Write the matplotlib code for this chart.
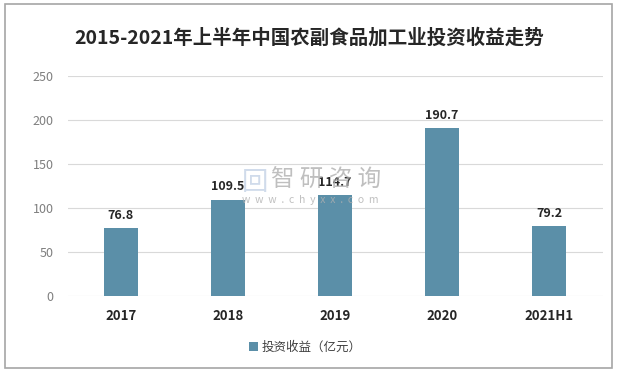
import matplotlib.pyplot as plt
from matplotlib.patches import Rectangle

plt.rcParams["font.family"] = ["Noto Sans CJK SC", "DejaVu Sans"]

categories = ["2017", "2018", "2019", "2020", "2021H1"]
values = [76.8, 109.5, 114.7, 190.7, 79.2]
yticks = [0, 50, 100, 150, 200, 250]
title = "2015-2021年上半年中国农副食品加工业投资收益走势"
series_name = "投资收益（亿元）"
bar_color = "#5b8fa8"

fig = plt.figure(figsize=(6.18, 3.76), dpi=100)
fig.patches.append(Rectangle((5 / 618, 8 / 376), 607 / 618, 364 / 376,
                             transform=fig.transFigure, fill=False,
                             edgecolor="#a6a6a6", linewidth=1.2))

ax = fig.add_axes([67.5 / 618, 1 - 296 / 376, 535 / 618, 220 / 376])
x = range(len(categories))
bars = ax.bar(x, values, width=0.31, color=bar_color, zorder=3, label=series_name)
for xi, v in zip(x, values):
    ax.text(xi, v + 7, f"{v:.1f}", ha="center", va="bottom",
            fontsize=9, fontweight="bold", color="#262626", zorder=4)

ax.set_xlim(-0.5, len(categories) - 0.5)
ax.set_ylim(0, 250)
ax.set_yticks(yticks)
ax.set_yticklabels([str(t) for t in yticks], fontsize=9, color="#7f7f7f")
ax.set_xticks(list(x))
ax.set_xticklabels(categories, fontsize=9.5, fontweight="bold", color="#262626")
ax.tick_params(axis="both", length=0)
ax.tick_params(axis="y", pad=10)
ax.tick_params(axis="x", pad=9)
ax.grid(axis="y", color="#d9d9d9", linewidth=0.8, zorder=0)
for s in ax.spines.values():
    s.set_visible(False)

fig.text(0.5, 1 - 38 / 376, title, ha="center", va="center",
         fontsize=14, fontweight="bold", color="#262626")

# watermark
fig.text(326 / 618, 1 - 180 / 376, "智 研 咨 询", ha="center", va="center",
         fontsize=17, color="#b0b0b0", alpha=0.8, zorder=5)
fig.text(310 / 618, 1 - 200 / 376, "w  w  w  .  c  h  y  x  x  .  c  o  m", ha="center",
         va="center", fontsize=7.5, color="#b0b0b0", alpha=0.8, zorder=5)
fig.text(255 / 618, 1 - 182 / 376, "回", ha="center", va="center",
         fontsize=19, color="#c5d3e6", alpha=0.8, zorder=5)

fig.legend(handles=[bars], labels=[series_name], loc="center",
           bbox_to_anchor=(305 / 618, 1 - 347 / 376), frameon=False,
           fontsize=9, handlelength=0.7, handleheight=0.7, handletextpad=0.3,
           labelcolor="#404040")

fig.savefig("out.png", dpi=100)
